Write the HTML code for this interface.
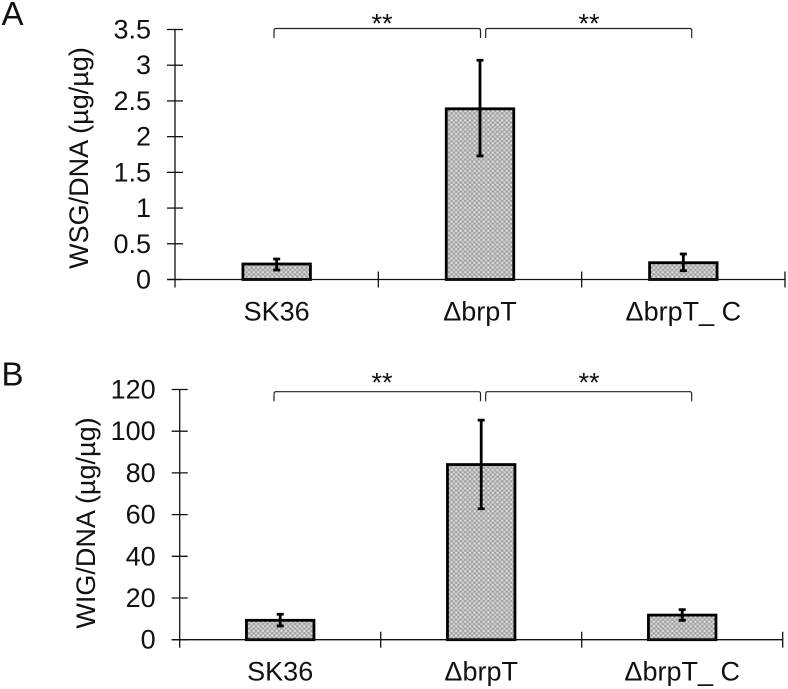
<!DOCTYPE html>
<html>
<head>
<meta charset="utf-8">
<title>WSG and WIG per DNA</title>
<style>
html,body{margin:0;padding:0;background:#fff;}
svg{display:block;}
text{font-family:"Liberation Sans",sans-serif;fill:#111;}
</style>
</head>
<body>
<svg id="figure" xmlns="http://www.w3.org/2000/svg" width="788" height="689" viewBox="0 0 788 689">
<defs>
<pattern id="hatch" patternUnits="userSpaceOnUse" width="4.6" height="4.6">
<rect width="4.6" height="4.6" fill="#b4b4b4"/>
<rect x="0" y="0" width="1.6" height="1.6" fill="#ececec"/>
<rect x="2.3" y="2.3" width="1.6" height="1.6" fill="#d8d8d8"/>
<rect x="2.3" y="0" width="1.2" height="1.2" fill="#8e8e8e"/>
<rect x="0" y="2.3" width="1.2" height="1.2" fill="#8e8e8e"/>
</pattern>
</defs>
</svg>
<script>
const categories = ['SK36', 'ΔbrpT', 'ΔbrpT_ C'];

const wsgValues = [0.217, 2.39, 0.235];
const wsgErrUpper = [0.287, 3.07, 0.357];
const wsgErrLower = [0.133, 1.73, 0.123];
const wsgTicks = [0, 0.5, 1, 1.5, 2, 2.5, 3, 3.5];
const wsgTickLabels = ['0', '0.5', '1', '1.5', '2', '2.5', '3', '3.5'];

const wigValues = [9.3, 84, 11.8];
const wigErrUpper = [12.2, 105.3, 14.4];
const wigErrLower = [6.6, 62.8, 9.3];
const wigTicks = [0, 20, 40, 60, 80, 100, 120];
const wigTickLabels = ['0', '20', '40', '60', '80', '100', '120'];

const NS = 'http://www.w3.org/2000/svg';
const figure = document.getElementById('figure');

function make(tag, attrs, parent) {
  const el = document.createElementNS(NS, tag);
  for (const k in attrs) el.setAttribute(k, attrs[k]);
  parent.appendChild(el);
  return el;
}

function drawPanel(p) {
  const group = make('g', {}, figure);
  
  

  const yScale = v => p.y0 - (v / p.yMax) * (p.y0 - p.yTop);
  const band = (p.xEnd - p.x0) / p.categories.length;
  const xCenter = i => p.x0 + (i + 0.5) * band;
  const barWidth = 67.5;

  const letter = make('text', {x: 1.5, y: p.letterY, 'font-size': 33}, group);
  letter.textContent = p.letter;
  
  

  const title = make('text', {
    x: 0, y: 0, 'font-size': 27, 'text-anchor': 'middle',
    transform: 'translate(' + p.titleX + ' ' + p.titleY + ') rotate(-90)'
  }, group);
  title.textContent = p.title;
  
  

  p.values.forEach((v, i) => {
    const bar = make('rect', {
      x: xCenter(i) - barWidth / 2,
      y: yScale(v),
      width: barWidth,
      height: p.y0 - yScale(v),
      fill: 'url(#hatch)',
      stroke: '#000',
      'stroke-width': 2.8
    }, group);
    
    
  });

  const yAxis = make('line', {x1: p.x0, x2: p.x0, y1: p.yTop, y2: p.y0 + 8, stroke: '#111', 'stroke-width': 1.3}, group);
  
  

  const xAxis = make('line', {x1: p.x0 - 8, x2: p.xEnd, y1: p.y0, y2: p.y0, stroke: '#111', 'stroke-width': 1.3}, group);
  
  

  p.ticks.forEach((t, i) => {
    const tick = make('line', {x1: p.x0 - 8, x2: p.x0 + 8, y1: yScale(t), y2: yScale(t), stroke: '#111', 'stroke-width': 1.3}, group);
    
    
    const label = make('text', {x: p.x0 - 24, y: yScale(t) + 9, 'font-size': 27, 'text-anchor': 'end'}, group);
    label.textContent = p.tickLabels[i];
    
    
  });

  for (let i = 1; i <= p.categories.length; i++) {
    const x = p.x0 + i * band;
    const tick = make('line', {x1: x, x2: x, y1: p.y0 - 8, y2: p.y0 + 8, stroke: '#111', 'stroke-width': 1.3}, group);
    
    
  }

  p.categories.forEach((c, i) => {
    const label = make('text', {x: xCenter(i), y: p.y0 + 41, 'font-size': 27, 'text-anchor': 'middle'}, group);
    label.textContent = c;
    
    
  });

  p.values.forEach((v, i) => {
    const x = xCenter(i);
    const top = yScale(p.errUpper[i]);
    const bottom = yScale(p.errLower[i]);
    const err = make('path', {
      d: 'M' + (x - 3.5) + ' ' + top + 'H' + (x + 3.5) + 'M' + x + ' ' + top + 'V' + bottom + 'M' + (x - 3.5) + ' ' + bottom + 'H' + (x + 3.5),
      fill: 'none',
      stroke: '#000',
      'stroke-width': 2.8
    }, group);
    
    
  });

  p.brackets.forEach(b => {
    const bracket = make('path', {
      d: 'M' + b[0] + ' ' + (p.bracketY + 9.5) + 'V' + (p.bracketY + 2) + 'Q' + b[0] + ' ' + p.bracketY + ' ' + (b[0] + 2) + ' ' + p.bracketY +
         'H' + (b[1] - 2) + 'Q' + b[1] + ' ' + p.bracketY + ' ' + b[1] + ' ' + (p.bracketY + 2) + 'V' + (p.bracketY + 9.5),
      fill: 'none',
      stroke: '#222',
      'stroke-width': 1.2
    }, group);
    
    
    const star = make('text', {x: b[2], y: p.starY, 'font-size': 27, 'text-anchor': 'middle'}, group);
    star.textContent = '**';
    
    
  });
}

drawPanel({
  id: 'wsg', letter: 'A', letterY: 25, title: 'WSG/DNA (µg/µg)',
  titleX: 88, titleY: 158,
  x0: 175, xEnd: 785, y0: 279.5, yTop: 29.5, yMax: 3.5,
  categories: categories, values: wsgValues, errUpper: wsgErrUpper, errLower: wsgErrLower,
  ticks: wsgTicks, tickLabels: wsgTickLabels,
  brackets: [[274, 480.5, 382], [485.7, 691.7, 589]], bracketY: 28.5, starY: 32.7
});

drawPanel({
  id: 'wig', letter: 'B', letterY: 385.7, title: 'WIG/DNA (µg/µg)',
  titleX: 95, titleY: 523,
  x0: 179.7, xEnd: 782.7, y0: 639.7, yTop: 389.5, yMax: 120,
  categories: categories, values: wigValues, errUpper: wigErrUpper, errLower: wigErrLower,
  ticks: wigTicks, tickLabels: wigTickLabels,
  brackets: [[274, 480.5, 382], [485.7, 691.7, 589]], bracketY: 391.7, starY: 391.7
});
</script>
</body>
</html>
